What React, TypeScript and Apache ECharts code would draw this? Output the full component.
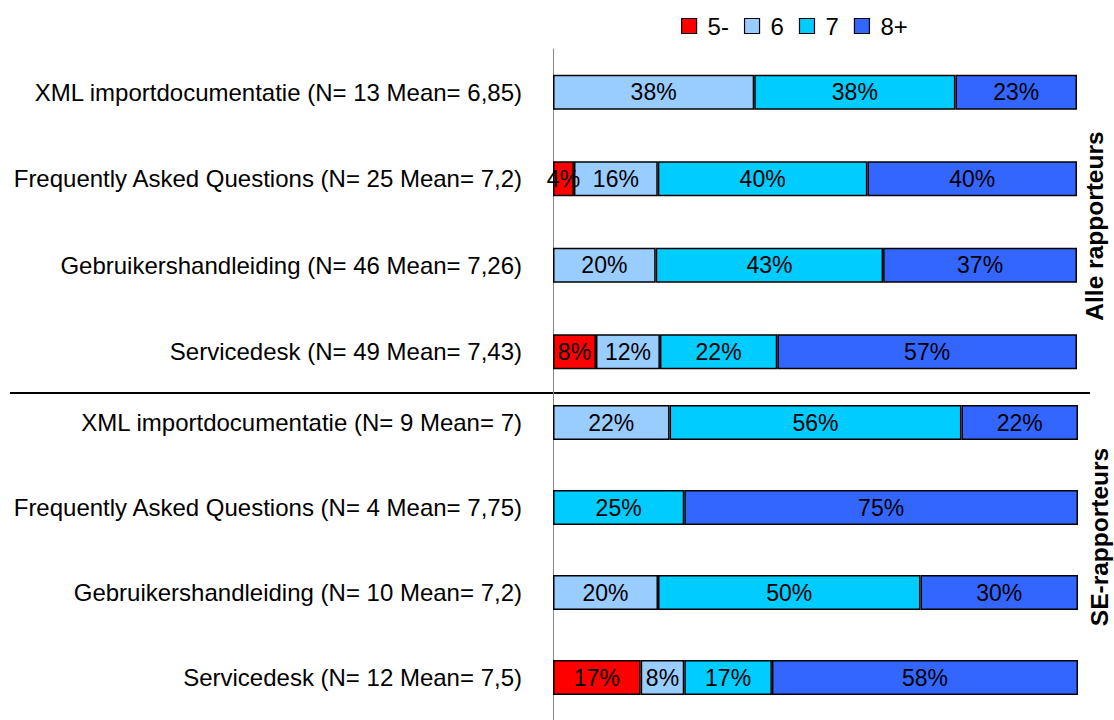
import React, { useEffect, useRef } from "react";
import * as echarts from "echarts";

const groupAll = [
  "XML importdocumentatie (N= 13 Mean= 6,85)",
  "Frequently Asked Questions (N= 25 Mean= 7,2)",
  "Gebruikershandleiding (N= 46 Mean= 7,26)",
  "Servicedesk (N= 49 Mean= 7,43)",
];
const groupSE = [
  "XML importdocumentatie (N= 9 Mean= 7)",
  "Frequently Asked Questions (N= 4 Mean= 7,75)",
  "Gebruikershandleiding (N= 10 Mean= 7,2)",
  "Servicedesk (N= 12 Mean= 7,5)",
];
const seriesNames = ["5-", "6", "7", "8+"];
const seriesColors = ["#FF0000", "#99CCFF", "#00CCFF", "#3366FF"];

const all5 = [null, 4, null, 8.2];
const all6 = [38.4, 16, 19.6, 12.2];
const all7 = [38.4, 40, 43.4, 22.4];
const all8 = [23.2, 40, 37.0, 57.2];

const se5 = [null, null, null, 16.7];
const se6 = [22.2, null, 20, 8.3];
const se7 = [55.6, 25, 50, 16.7];
const se8 = [22.2, 75, 30, 58.3];

const groupTitles = ["Alle rapporteurs", "SE-rapporteurs"];

const FONT = "'Liberation Sans', Arial, sans-serif";

export default function App() {
  const ref = useRef<HTMLDivElement>(null);
  useEffect(() => {
    if (!ref.current) return;
    const chart = echarts.init(ref.current, null, { renderer: "svg" });
    const allData = [all5, all6, all7, all8];
    const seData = [se5, se6, se7, se8];
    const mk = (data: (number | null)[], i: number, gi: number) => ({
      name: seriesNames[i],
      type: "bar",
      stack: "g" + gi,
      xAxisIndex: gi,
      yAxisIndex: gi,
      barWidth: 35,
      data,
      itemStyle: { color: seriesColors[i], borderColor: "#000", borderWidth: 1.5 },
      label: {
        show: true,
        position: "inside",
        color: "#000",
        fontSize: 23,
        fontFamily: FONT,
        formatter: (p: any) => (p.value == null ? "" : Math.round(p.value) + "%"),
      },
    });
    const yAx = (cats: string[], gi: number) => ({
      type: "category",
      gridIndex: gi,
      data: cats,
      inverse: true,
      axisLine: { show: true, lineStyle: { color: "#888", width: 1 } },
      axisTick: { show: false },
      axisLabel: { color: "#000", fontSize: 24, fontFamily: FONT, margin: 31 },
    });
    const xAx = (gi: number) => ({
      type: "value",
      gridIndex: gi,
      min: 0,
      max: 100,
      show: false,
    });
    const titleText = (text: string, x: number, y: number) => ({
      type: "text",
      x,
      y,
      rotation: Math.PI / 2,
      style: {
        text,
        fontSize: 24.5,
        fontWeight: "bold",
        fontFamily: FONT,
        fill: "#000",
        align: "center",
        verticalAlign: "middle",
      },
    });
    chart.setOption({
      animation: false,
      legend: {
        data: seriesNames,
        left: 681,
        top: 14,
        padding: 0,
        icon: "rect",
        itemWidth: 15,
        itemHeight: 15,
        itemGap: 15,
        textStyle: { color: "#000", fontSize: 24, fontFamily: FONT, padding: [0, 0, 0, 6] },
        itemStyle: { borderColor: "#000", borderWidth: 1.2 },
      },
      grid: [
        { left: 553, top: 49, width: 524, height: 346 },
        { left: 553, top: 380, width: 525, height: 346 },
      ],
      xAxis: [xAx(0), xAx(1)],
      yAxis: [yAx(groupAll, 0), yAx(groupSE, 1)],
      series: [
        ...allData.map((d, i) => mk(d, i, 0)),
        ...seData.map((d, i) => mk(d, i, 1)),
      ],
      graphic: [
        {
          type: "line",
          shape: { x1: 10, y1: 393, x2: 1090, y2: 393 },
          style: { stroke: "#000", lineWidth: 2 },
        },
        titleText(groupTitles[0], 1094, 226),
        titleText(groupTitles[1], 1099, 537),
      ],
    });
    return () => chart.dispose();
  }, []);
  return (
    <div
      ref={ref}
      style={{ position: "fixed", left: 0, top: 0, width: 1114, height: 720, background: "#fff" }}
    />
  );
}
